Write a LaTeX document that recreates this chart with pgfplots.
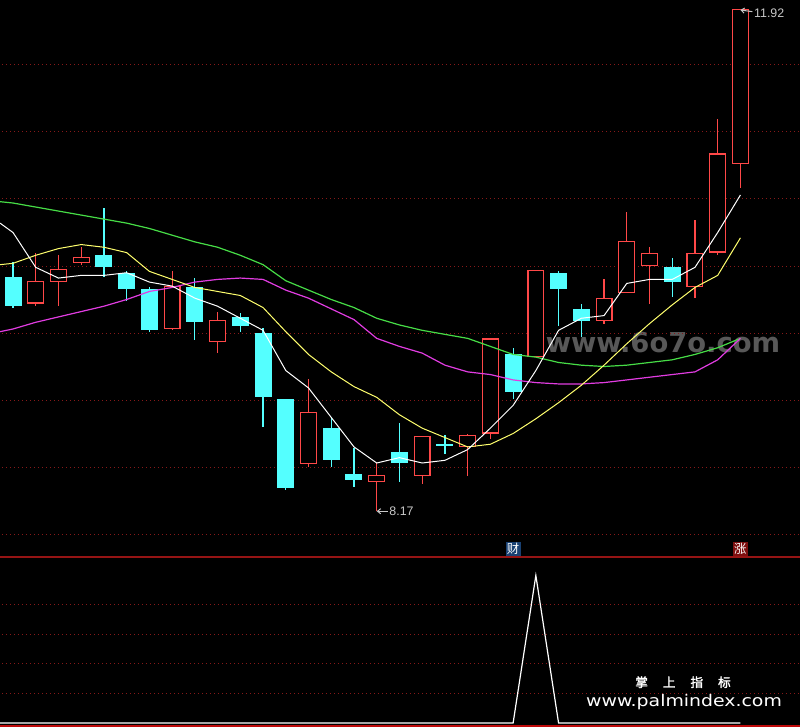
\documentclass[border=0pt]{standalone}
\usepackage{pgfplots}
\pgfplotsset{compat=1.18}
\usepackage{pgfplotstable}
\usepackage{fontspec}
\setmainfont{Liberation Sans}
\newfontfamily\dejavu{DejaVu Sans}
\newfontfamily\cjk{Noto Sans CJK SC}
\newfontfamily\cjkb[FakeBold=2]{Noto Sans CJK SC}
\usetikzlibrary{arrows.meta}

\definecolor{gridred}{RGB}{135,25,25}
\definecolor{sepred}{RGB}{150,20,20}
\definecolor{botred}{RGB}{190,10,10}
\definecolor{upred}{RGB}{255,72,72}
\definecolor{downcyan}{RGB}{84,255,255}
\definecolor{maw}{RGB}{255,255,255}
\definecolor{may}{RGB}{255,255,110}
\definecolor{mam}{RGB}{225,60,225}
\definecolor{mag}{RGB}{70,220,70}
\definecolor{labgray}{RGB}{200,200,200}
\definecolor{caiblue}{RGB}{25,65,115}
\definecolor{zhangred}{RGB}{125,15,15}
\definecolor{wmgray}{RGB}{88,88,88}

% rising candles: index, open, high, low, close
\pgfplotstableread{
i o h l c
1 9.72 10.10 9.70 9.89
2 9.88 10.08 9.70 9.98
3 10.02 10.14 10.01 10.07
7 9.53 9.96 9.52 9.85
9 9.43 9.66 9.35 9.60
13 8.52 9.16 8.50 8.91
16 8.39 8.53 8.17 8.44
18 8.43 8.73 8.37 8.73
20 8.65 8.75 8.43 8.74
21 8.75 9.46 8.71 9.46
23 9.32 9.97 9.32 9.97
26 9.59 9.90 9.57 9.76
27 9.80 10.40 9.80 10.19
28 10.00 10.14 9.72 10.10
30 9.84 10.34 9.76 10.10
31 10.10 11.10 10.08 10.84
32 10.76 11.92 10.58 11.92
}\upcandles

% falling candles
\pgfplotstableread{
i o h l c
0 9.92 10.03 9.69 9.70
4 10.08 10.43 9.92 9.99
5 9.95 9.96 9.74 9.83
6 9.83 9.84 9.51 9.52
8 9.84 9.91 9.45 9.58
10 9.62 9.65 9.51 9.55
11 9.50 9.54 8.80 9.02
12 9.01 9.01 8.33 8.34
14 8.79 8.87 8.50 8.55
15 8.45 8.64 8.35 8.40
17 8.61 8.83 8.39 8.53
19 8.672 8.74 8.60 8.657
22 9.34 9.39 9.01 9.06
24 9.95 9.96 9.55 9.83
25 9.68 9.72 9.47 9.59
29 9.99 10.06 9.77 9.88
}\downcandles

\pgfplotsset{
  wick/.style={draw=none, mark=none, forget plot,
    error bars/.cd, y dir=both, y explicit, error mark=none,
    error bar style={draw=#1, line width=0.6pt}},
  body/.style 2 args={draw=none, mark=none, forget plot,
    error bars/.cd, y dir=both, y explicit, error mark=none,
    error bar style={draw=#1, line width=#2}},
  gridline/.style={gridred, line width=0.5pt, dash pattern=on 0.5pt off 1.5pt, forget plot},
  panel/.style={width=400pt, scale only axis, xmin=-0.572, xmax=34.62,
    axis line style={draw=none}, xtick=\empty, ytick=\empty, clip=true},
}

\begin{document}
\begin{tikzpicture}
\fill[black] (0,0) rectangle (400pt,-363.5pt);

% watermark sits under the chart
\node[anchor=base, inner sep=0pt, text=wmgray, font=\dejavu\bfseries\fontsize{13.7}{13.7}\selectfont] at (331.5pt,-176.5pt) {www.6o7o.com};

\begin{axis}[panel,
  at={(0,0)}, anchor=north west, height=278pt,
  ymin=7.836, ymax=11.985,
]
% price grid
\pgfplotsinvokeforeach{8,8.5,9,9.5,10,10.5,11,11.5}{
  \addplot[gridline] coordinates {(-1,#1)(35,#1)};
}
% rising: wick, red body, hollow inside
\addplot[wick=upred] table[x=i, y expr={(\thisrow{h}+\thisrow{l})/2}, y error expr={(\thisrow{h}-\thisrow{l})/2}] {\upcandles};
\addplot[body={upred}{8.5pt}] table[x=i, y expr={(\thisrow{o}+\thisrow{c})/2}, y error expr={(\thisrow{c}-\thisrow{o})/2}] {\upcandles};
\addplot[body={black}{7.3pt}] table[x=i, y expr={(\thisrow{o}+\thisrow{c})/2}, y error expr={(\thisrow{c}-\thisrow{o})/2-0.009}] {\upcandles};
% falling: solid cyan
\addplot[wick=downcyan] table[x=i, y expr={(\thisrow{h}+\thisrow{l})/2}, y error expr={(\thisrow{h}-\thisrow{l})/2}] {\downcandles};
\addplot[body={downcyan}{8.5pt}] table[x=i, y expr={(\thisrow{o}+\thisrow{c})/2}, y error expr={(\thisrow{o}-\thisrow{c})/2}] {\downcandles};

% moving averages
\addplot[mag, line width=0.6pt] coordinates {(-0.57,10.48)(0,10.47)(1,10.44)(2,10.41)(3,10.38)(4,10.35)(5,10.32)(6,10.28)(7,10.23)(8,10.18)(9,10.14)(10,10.08)(11,10.01)(12,9.89)(13,9.82)(14,9.75)(15,9.69)(16,9.61)(17,9.56)(18,9.52)(19,9.49)(20,9.46)(21,9.40)(22,9.34)(23,9.32)(24,9.28)(25,9.26)(26,9.25)(27,9.26)(28,9.28)(29,9.30)(30,9.34)(31,9.39)(32,9.46)};
\addplot[mam, line width=0.6pt] coordinates {(-0.57,9.51)(0,9.53)(1,9.58)(2,9.62)(3,9.66)(4,9.70)(5,9.75)(6,9.81)(7,9.84)(8,9.88)(9,9.90)(10,9.91)(11,9.90)(12,9.82)(13,9.76)(14,9.68)(15,9.60)(16,9.46)(17,9.40)(18,9.35)(19,9.26)(20,9.21)(21,9.19)(22,9.15)(23,9.13)(24,9.12)(25,9.12)(26,9.13)(27,9.15)(28,9.17)(29,9.19)(30,9.21)(31,9.30)(32,9.46)};
\addplot[may, line width=0.5pt] coordinates {(-0.57,10.01)(0,10.02)(1,10.08)(2,10.13)(3,10.16)(4,10.14)(5,10.10)(6,9.96)(7,9.90)(8,9.84)(9,9.81)(10,9.78)(11,9.69)(12,9.51)(13,9.34)(14,9.21)(15,9.10)(16,9.02)(17,8.89)(18,8.79)(19,8.72)(20,8.65)(21,8.67)(22,8.75)(23,8.86)(24,8.98)(25,9.11)(26,9.26)(27,9.42)(28,9.57)(29,9.71)(30,9.84)(31,9.93)(32,10.21)};
\addplot[maw, line width=0.5pt] coordinates {(-0.57,10.32)(0,10.25)(1,9.99)(2,9.91)(3,9.93)(4,9.93)(5,9.95)(6,9.88)(7,9.85)(8,9.76)(9,9.70)(10,9.61)(11,9.52)(12,9.22)(13,9.09)(14,8.87)(15,8.65)(16,8.53)(17,8.57)(18,8.53)(19,8.55)(20,8.63)(21,8.79)(22,8.96)(23,9.22)(24,9.52)(25,9.61)(26,9.63)(27,9.87)(28,9.90)(29,9.90)(30,9.99)(31,10.25)(32,10.53)};

% high / low markers
\draw[labgray, line width=0.5pt, {Straight Barb[length=1.6pt,width=2.6pt]}-]
  (axis cs:16,8.17) -- ++(5.5pt,0pt)
  node[right, inner sep=0.6pt, text=labgray, font=\fontsize{6.2}{6.2}\selectfont] {8.17};
\draw[labgray, line width=0.5pt, {Straight Barb[length=1.6pt,width=2.6pt]}-]
  (axis cs:32,11.91) -- ++(6pt,-0.8pt)
  node[right, inner sep=0.6pt, yshift=-1pt, text=labgray, font=\fontsize{6.2}{6.2}\selectfont] {11.92};

% signal tags
\node[fill=caiblue, text=white, inner sep=0.6pt, font=\cjk\fontsize{6.2}{6.2}\selectfont] at (axis cs:22,7.888) {财};
\node[fill=zhangred, text=white, inner sep=0.6pt, font=\cjk\fontsize{6.2}{6.2}\selectfont] at (axis cs:32,7.888) {涨};
\end{axis}

\begin{axis}[panel,
  at={(0,-278pt)}, anchor=north west, height=85.5pt,
  ymin=-0.136, ymax=5.661,
]
\pgfplotsinvokeforeach{1,2,3,4}{
  \addplot[gridline] coordinates {(-1,#1)(35,#1)};
}
\addplot[white, line width=0.6pt] coordinates {(-1,0)(0,0)(1,0)(2,0)(3,0)(4,0)(5,0)(6,0)(7,0)(8,0)(9,0)(10,0)(11,0)(12,0)(13,0)(14,0)(15,0)(16,0)(17,0)(18,0)(19,0)(20,0)(21,0)(22,0)(23,5)(24,0)(25,0)(26,0)(27,0)(28,0)(29,0)(30,0)(31,0)(32,0)};
\end{axis}

% panel separators
\draw[sepred, line width=1pt] (0,-278.3pt) -- (400pt,-278.3pt);
\draw[botred, line width=0.9pt] (0,-363pt) -- (400pt,-363pt);

% site marks
\node[anchor=base, inner sep=0pt, text=white, font=\cjkb\fontsize{6.3}{6.3}\selectfont] at (341.5pt,-343.5pt) {掌\hspace{7.5pt}上\hspace{7.5pt}指\hspace{7.5pt}标};
\node[anchor=base, inner sep=0pt, text=white, xscale=1.18, font=\dejavu\fontsize{8}{8}\selectfont] at (342pt,-353.5pt) {www.palmindex.com};

\pgfresetboundingbox
\path (0,0) rectangle (400pt,-363.5pt);
\end{tikzpicture}
\end{document}
